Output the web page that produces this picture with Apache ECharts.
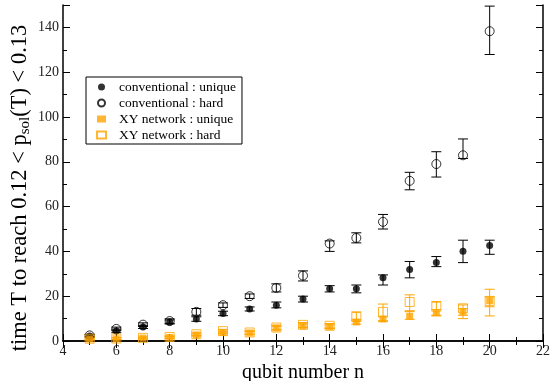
<!DOCTYPE html>
<html>
<head>
<meta charset="utf-8">
<script src="https://cdn.jsdelivr.net/npm/echarts@6/dist/echarts.min.js"></script>
<style>
  html, body { margin: 0; padding: 0; background: #fff; }
  #chart { width: 551px; height: 381px; }
</style>
</head>
<body>
<div id="chart"></div>
<script>
  // qubit numbers
  var qubits = [5, 6, 7, 8, 9, 10, 11, 12, 13, 14, 15, 16, 17, 18, 19, 20]

  // conventional : unique
  var convUnique = [2.2, 4.5, 6.3, 8.5, 9.8, 12.3, 14.3, 16, 18.8, 23.3, 23.3, 28.2, 31.9, 35, 40.1, 42.6]
  var convUniqueBars = [[1.6, 2.8], [3.7, 5.3], [5.6, 7], [7.6, 9.4], [8.8, 10.8], [11.3, 13.3], [13.4, 15.2], [14.8, 17.4],
    [17.4, 20], [21.9, 24.7], [21.5, 25], [25, 29.5], [28.2, 35.5], [33.2, 37.7], [35, 45], [38.7, 45]]

  // conventional : hard
  var convHard = [2.5, 5.4, 7.3, 8.9, 13, 16, 20, 23.7, 29.2, 43.5, 46, 53.2, 71.5, 79, 82.9, 138.3]
  var convHardBars = [[2, 3], [4.6, 6.2], [6.5, 8.1], [7.9, 9.9], [11.5, 14.5], [15, 17], [19, 21], [21.9, 25.5],
    [26.8, 31.3], [40, 44.7], [43.8, 48.3], [50, 56.5], [67.5, 75.3], [73.2, 84.5], [81.5, 90.2], [127.9, 149.5]]

  // XY network : unique
  var xyUnique = [0.9, 1, 1.3, 1.6, 2.7, 3.8, 3.6, 5.8, 6.8, 6.4, 8.5, 9.8, 11, 12.7, 13.1, 18]
  var xyUniqueBars = [[0.5, 1.3], [0.6, 1.4], [0.9, 1.7], [1.2, 2], [2.2, 3.2], [3.2, 4.4], [3, 4.2], [5, 6.6],
    [6, 7.6], [5.6, 7.2], [7.5, 9.5], [8.8, 10.8], [9.7, 13.5], [11.5, 14], [11.5, 14.5], [15.3, 19.7]]

  // XY network : hard
  var xyHard = [1, 1.1, 1.4, 1.8, 3, 4.4, 3.8, 6, 7.2, 6.8, 10.7, 13, 17.4, 15.3, 14.6, 17.9]
  var xyHardBars = [[0.6, 1.4], [0.7, 1.5], [1, 1.8], [1.3, 2.3], [2.4, 3.6], [3.6, 5.2], [3, 4.6], [5, 7],
    [6.2, 8.2], [5.8, 7.8], [9, 13], [9, 16.5], [13.1, 20.6], [11.2, 17.6], [10, 16.1], [11.2, 23.1]]

  var yTicks = [0, 20, 40, 60, 80, 100, 120, 140]

  var serif = '"Liberation Serif", "DejaVu Serif", serif'
  var orange = '#ffa500'

  function pairs(vals) {
    return qubits.map(function (n, i) { return [n, vals[i]] })
  }
  function barData(bars) {
    return qubits.map(function (n, i) { return [n, bars[i][0], bars[i][1]] })
  }
  function errorSeries(bars, color) {
    return {
      type: 'custom',
      silent: true,
      z: 1,
      renderItem: function (params, api) {
        var lo = api.coord([api.value(0), api.value(1)])
        var hi = api.coord([api.value(0), api.value(2)])
        var cap = 5
        var st = { stroke: color, lineWidth: 1 }
        return {
          type: 'group',
          children: [
            { type: 'line', shape: { x1: lo[0], y1: lo[1], x2: hi[0], y2: hi[1] }, style: st },
            { type: 'line', shape: { x1: lo[0] - cap, y1: lo[1], x2: lo[0] + cap, y2: lo[1] }, style: st },
            { type: 'line', shape: { x1: hi[0] - cap, y1: hi[1], x2: hi[0] + cap, y2: hi[1] }, style: st }
          ]
        }
      },
      data: barData(bars)
    }
  }

  var axisLine = { show: true, lineStyle: { color: '#000', width: 1.5 } }
  var tick = { inside: true, length: 7, lineStyle: { color: '#000' } }
  var minor = { show: true, splitNumber: 2, length: 4, lineStyle: { color: '#000' } }

  var chart = echarts.init(document.getElementById('chart'))
  chart.setOption({
    animation: false,
    grid: { left: 63, right: 8, top: 5, bottom: 40, outerBoundsMode: 'none' },
    legend: {
      left: 86,
      top: 77,
      orient: 'vertical',
      data: ['conventional : unique', 'conventional : hard', 'XY network : unique', 'XY network : hard'],
      itemWidth: 9,
      itemHeight: 7,
      itemGap: 2,
      padding: [3, 6, 2, 10],
      borderColor: '#000',
      borderWidth: 1,
      borderRadius: 0,
      textStyle: { fontFamily: serif, fontSize: 13.5, color: '#000', padding: [0, 0, 0, 8] }
    },
    xAxis: [{
      type: 'value',
      min: 4,
      max: 22,
      interval: 2,
      axisLine: axisLine,
      axisTick: tick,
      minorTick: minor,
      splitLine: { show: false },
      axisLabel: { fontFamily: serif, fontSize: 14, color: '#222', margin: 3 },
      name: 'qubit number n',
      nameLocation: 'middle',
      nameGap: 16,
      nameTextStyle: { fontFamily: serif, fontSize: 20, color: '#000' }
    }, {
      type: 'value',
      position: 'top',
      min: 4,
      max: 22,
      interval: 2,
      axisLine: axisLine,
      axisTick: tick,
      minorTick: minor,
      splitLine: { show: false },
      axisLabel: { show: false }
    }],
    yAxis: [{
      type: 'value',
      min: 0,
      max: 150,
      interval: 20,
      axisLine: axisLine,
      axisTick: tick,
      minorTick: minor,
      splitLine: { show: false },
      axisLabel: {
        fontFamily: serif, fontSize: 14, color: '#222', margin: 4,
        formatter: function (v) { return yTicks.indexOf(v) >= 0 ? v : '' }
      },
      name: 'time T to reach 0.12 < p{sub|sol}(T) < 0.13',
      nameLocation: 'middle',
      nameGap: 30,
      nameMoveOverlap: false,
      nameTextStyle: {
        fontFamily: serif, fontSize: 22.5, color: '#000', padding: [0, 30, 0, 0],
        rich: { sub: { fontFamily: serif, fontSize: 15, color: '#000', verticalAlign: 'bottom', padding: [10, 0, 0, 0] } }
      }
    }, {
      type: 'value',
      position: 'right',
      min: 0,
      max: 150,
      interval: 20,
      axisLine: axisLine,
      axisTick: tick,
      minorTick: minor,
      splitLine: { show: false },
      axisLabel: { show: false }
    }],
    series: [
      errorSeries(convUniqueBars, '#000'),
      errorSeries(convHardBars, '#000'),
      errorSeries(xyUniqueBars, orange),
      errorSeries(xyHardBars, orange),
      {
        name: 'conventional : unique',
        type: 'scatter',
        symbol: 'circle',
        symbolSize: 7,
        z: 3,
        itemStyle: { color: '#000' },
        data: pairs(convUnique)
      },
      {
        name: 'conventional : hard',
        type: 'scatter',
        symbol: 'circle',
        symbolSize: 9,
        z: 3,
        itemStyle: { color: 'rgba(255,255,255,0)', borderColor: '#000', borderWidth: 1 },
        data: pairs(convHard)
      },
      {
        name: 'XY network : unique',
        type: 'scatter',
        symbol: 'rect',
        symbolSize: 7,
        z: 3,
        itemStyle: { color: orange },
        data: pairs(xyUnique)
      },
      {
        name: 'XY network : hard',
        type: 'scatter',
        symbol: 'rect',
        symbolSize: 9,
        z: 3,
        itemStyle: { color: 'rgba(255,255,255,0)', borderColor: orange, borderWidth: 1 },
        data: pairs(xyHard)
      }
    ]
  })
</script>
</body>
</html>
